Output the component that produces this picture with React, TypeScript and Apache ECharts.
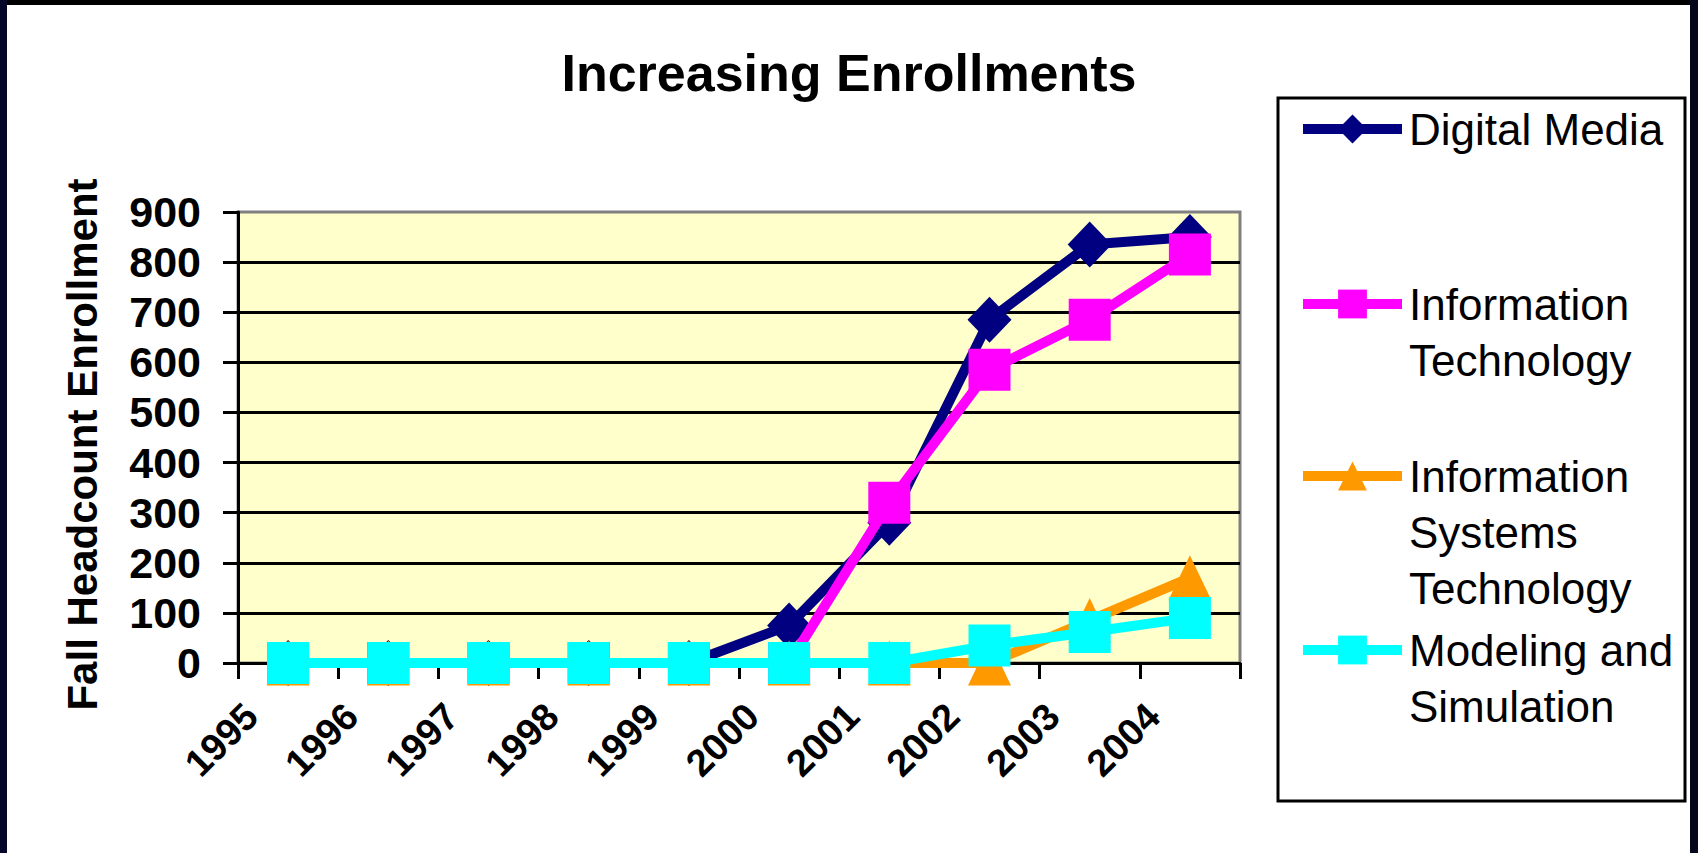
import React, { useEffect, useRef } from "react";
import * as echarts from "echarts";

// ---- data ----
const years = ["1995", "1996", "1997", "1998", "1999", "2000", "2001", "2002", "2003", "2004"];
const digitalMedia = [0, 0, 0, 0, 0, 75, 280, 685, 835, 850];
const infoTech = [0, 0, 0, 0, 0, 0, 320, 585, 685, 815];
const infoSysTech = [0, 0, 0, 0, 0, 0, 0, 0, 85, 170];
const modelingSim = [0, 0, 0, 0, 0, 0, 0, 35, 62, 90];
const yMin = 0;
const yMax = 900;
const yInterval = 100;

const seriesNames = [
  "Digital Media",
  "Information Technology",
  "Information Systems Technology",
  "Modeling and Simulation",
];
const legendLines = [
  ["Digital Media"],
  ["Information", "Technology"],
  ["Information", "Systems", "Technology"],
  ["Modeling and", "Simulation"],
];
const titleText = "Increasing Enrollments";
const yAxisTitle = "Fall Headcount Enrollment";

const FONT = "'Liberation Sans', Arial, sans-serif";
const colors = ["#000080", "#FF00FF", "#FF9900", "#00FFFF"];
const symbols = ["diamond", "rect", "triangle", "rect"];
const symbolSizes: any[] = [[44, 46], 42, [43, 45], 42];
const seriesData = [digitalMedia, infoTech, infoSysTech, modelingSim];

const LEG_LH = 56;
const legendIconY = [129, 304, 476, 650];

export default function App() {
  const ref = useRef<HTMLDivElement>(null);

  useEffect(() => {
    if (!ref.current) return;
    const chart = echarts.init(ref.current, null, { renderer: "svg" });

    const legends = seriesNames.map((name, i) => {
      const k = legendLines[i].length;
      // leading blank lines keep the first text line level with the icon
      const text = new Array(k - 1).fill("").concat(legendLines[i]).join("\n");
      return {
        orient: "vertical",
        left: 1298,
        top: legendIconY[i] - (LEG_LH / 2) * (2 * k - 1),
        padding: 0,
        itemWidth: 99,
        itemHeight: 36,
        data: [name],
        selectedMode: false,
        lineStyle: { width: 10 },
        formatter: () => text,
        textStyle: {
          fontFamily: FONT,
          fontSize: 44,
          color: "#000",
          lineHeight: LEG_LH,
          padding: [0, 0, 0, 2],
        },
      };
    });

    const option: any = {
      animation: false,
      backgroundColor: "#ffffff",
      title: {
        text: titleText,
        left: "center",
        top: 42,
        textStyle: { fontFamily: FONT, fontSize: 52, fontWeight: "bold", color: "#000" },
      },
      legend: legends,
      grid: {
        left: 238,
        top: 212,
        width: 1002,
        height: 451,
        show: true,
        backgroundColor: "#FFFFCC",
        borderColor: "#808080",
        borderWidth: 3,
        containLabel: false,
      },
      xAxis: {
        type: "category",
        data: years,
        boundaryGap: true,
        axisLine: { show: true, lineStyle: { color: "#000", width: 3 } },
        axisTick: { show: true, length: 16, lineStyle: { color: "#000", width: 3 } },
        axisLabel: {
          rotate: 45,
          margin: 10,
          interval: 0,
          fontFamily: FONT,
          fontSize: 38,
          fontWeight: "bold",
          color: "#000",
          padding: [0, 52, 0, 0],
        },
        splitLine: { show: false },
      },
      yAxis: {
        type: "value",
        min: yMin,
        max: yMax,
        interval: yInterval,
        name: yAxisTitle,
        nameLocation: "middle",
        nameRotate: 90,
        nameGap: 135,
        nameTextStyle: {
          fontFamily: FONT,
          fontSize: 42,
          fontWeight: "bold",
          color: "#000",
          padding: [0, 14, 0, 0],
        },
        axisLine: { show: true, lineStyle: { color: "#000", width: 3 } },
        axisTick: { show: true, length: 15, lineStyle: { color: "#000", width: 3 } },
        axisLabel: {
          margin: 37,
          fontFamily: FONT,
          fontSize: 43,
          fontWeight: "bold",
          color: "#000",
        },
        splitLine: { show: true, showMaxLine: false, lineStyle: { color: "#000", width: 3 } },
      },
      series: seriesNames.map((name, i) => ({
        name,
        type: "line",
        data: seriesData[i],
        symbol: symbols[i],
        symbolSize: symbolSizes[i],
        showAllSymbol: true,
        clip: false,
        lineStyle: { color: colors[i], width: 10 },
        itemStyle: { color: colors[i], borderWidth: 0 },
        emphasis: { disabled: true },
        z: 3 + i,
      })),
      graphic: [
        {
          type: "rect",
          z: 1,
          shape: { x: 1278, y: 98, width: 407, height: 703 },
          style: { fill: "rgba(0,0,0,0)", stroke: "#000", lineWidth: 3 },
        },
        { type: "rect", z: 100, shape: { x: 0, y: 0, width: 1698, height: 5 }, style: { fill: "#000" } },
        { type: "rect", z: 100, shape: { x: 0, y: 0, width: 7, height: 853 }, style: { fill: "#06062a" } },
        { type: "rect", z: 100, shape: { x: 1690, y: 0, width: 8, height: 853 }, style: { fill: "#06061a" } },
      ],
    };

    chart.setOption(option);
    return () => chart.dispose();
  }, []);

  return (
    <div
      ref={ref}
      style={{ position: "fixed", left: 0, top: 0, width: 1698, height: 853, background: "#fff" }}
    />
  );
}
